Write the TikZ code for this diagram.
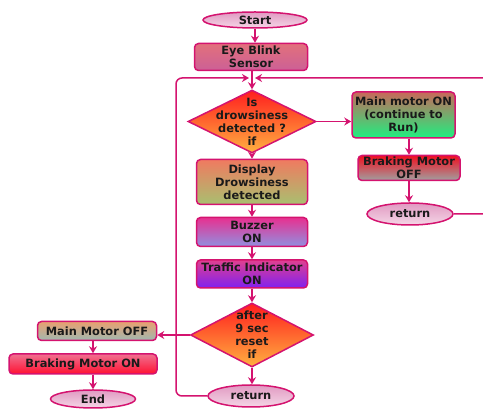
\documentclass[tikz,border=0pt]{standalone}
\usepackage{fontspec}
\setmainfont{DejaVu Sans}
\usetikzlibrary{shapes.geometric,arrows.meta}
\definecolor{edge}{HTML}{D4136F}
\definecolor{txt}{HTML}{1A1A1A}
\definecolor{ovtop}{HTML}{E09AC2}
\definecolor{ovbot}{HTML}{F5D6E6}
\definecolor{diatop}{HTML}{FF1E1E}
\definecolor{diabot}{HTML}{FFB040}
\begin{document}
\begin{tikzpicture}[x=1pt,y=1pt,
  base/.style={draw=edge, line width=1.5pt, text=txt,
    font=\fontsize{11.4}{13}\selectfont\bfseries, align=center, inner sep=0pt},
  box/.style={base, rectangle, rounded corners=4pt},
  oval/.style={base, ellipse, top color=ovtop, bottom color=ovbot},
  dia/.style={base, diamond, top color=diatop, bottom color=diabot},
  arr/.style={draw=edge, line width=1.5pt, -{Stealth[length=7pt,width=8pt]}},
  loopline/.style={draw=edge, line width=1.5pt, rounded corners=6pt, -{Stealth[length=7pt,width=8pt]}}]
\useasboundingbox (0,0) rectangle (483,409);

\node[oval, minimum width=104pt, minimum height=16pt] (start) at (255,389) {Start};
\node[box, minimum width=113pt, minimum height=27pt, top color={rgb,255:red,226;green,112;blue,124}, bottom color={rgb,255:red,204;green,96;blue,150}] (sensor) at (251,352) {Eye Blink\\Sensor};
\coordinate (j) at (252,331);
\node[dia, minimum width=128pt, minimum height=63pt, label={[base,draw=none,fill=none]center:Is\\drowsiness\\detected ?\\if}] (d1) at (252,287.5) {};
\node[box, minimum width=103pt, minimum height=46pt, top color={rgb,255:red,200;green,104;blue,90}, bottom color={rgb,255:red,30;green,240;blue,128}] (mon) at (403.5,294) {Main motor ON\\(continue to\\Run)};
\node[box, minimum width=102pt, minimum height=25pt, top color={rgb,255:red,240;green,16;blue,32}, bottom color={rgb,255:red,160;green,160;blue,160}] (boff) at (409,241) {Braking Motor\\OFF};
\node[oval, minimum width=86pt, minimum height=22pt] (ret1) at (410,195) {return};
\node[box, minimum width=111pt, minimum height=45pt, top color={rgb,255:red,240;green,122;blue,96}, bottom color={rgb,255:red,168;green,192;blue,112}] (disp) at (252,227) {Display\\Drowsiness\\detected};
\node[box, minimum width=111pt, minimum height=29pt, top color={rgb,255:red,232;green,48;blue,144}, bottom color={rgb,255:red,144;green,144;blue,224}] (buzz) at (252,177) {Buzzer\\ON};
\node[box, minimum width=111pt, minimum height=28pt, top color={rgb,255:red,224;green,64;blue,144}, bottom color={rgb,255:red,128;green,32;blue,240}] (traf) at (252,135) {Traffic Indicator\\ON};
\node[dia, minimum width=123pt, minimum height=64pt, label={[base,draw=none,fill=none]center:after\\9 sec\\reset\\if}] (d2) at (252,74) {};
\node[box, minimum width=119pt, minimum height=19pt, top color={rgb,255:red,232;green,160;blue,112}, bottom color={rgb,255:red,160;green,184;blue,176}] (moff) at (97,78) {Main Motor OFF};
\node[box, minimum width=148pt, minimum height=20pt, top color={rgb,255:red,240;green,112;blue,144}, bottom color={rgb,255:red,255;green,16;blue,48}] (bon) at (83,45) {Braking Motor ON};
\node[oval, minimum width=85pt, minimum height=18pt] (end) at (93,10) {End};
\node[oval, minimum width=86pt, minimum height=22pt] (ret2) at (251,13) {return};

\coordinate (lc) at (176,331);
\coordinate (rc) at (492,331);

\draw[arr] (start) -- (start |- sensor.north);
\draw[arr] (sensor.south -| d1) -- (d1.north);
\draw[loopline] (ret2.west) -| (lc) -- ([xshift=-3pt]j);
\draw[loopline] (ret1.east) -| (rc) -- ([xshift=3pt]j);
\draw[arr] (d1.east) -- (d1.east -| mon.west);
\draw[arr] (boff |- mon.south) -- (boff.north);
\draw[arr] (boff.south) -- (boff.south |- ret1.north);
\draw[arr] (d1.south) -- (disp.north);
\draw[arr] (disp.south) -- (buzz.north);
\draw[arr] (buzz.south) -- (traf.north);
\draw[arr] (traf.south) -- (d2.north);
\draw[arr] (d2.south) -- (d2.south |- ret2.north);
\draw[arr] (d2.west) -- (d2.west -| moff.east);
\draw[arr] (end |- moff.south) -- (end |- bon.north);
\draw[arr] (end |- bon.south) -- (end.north);
\end{tikzpicture}
\end{document}
